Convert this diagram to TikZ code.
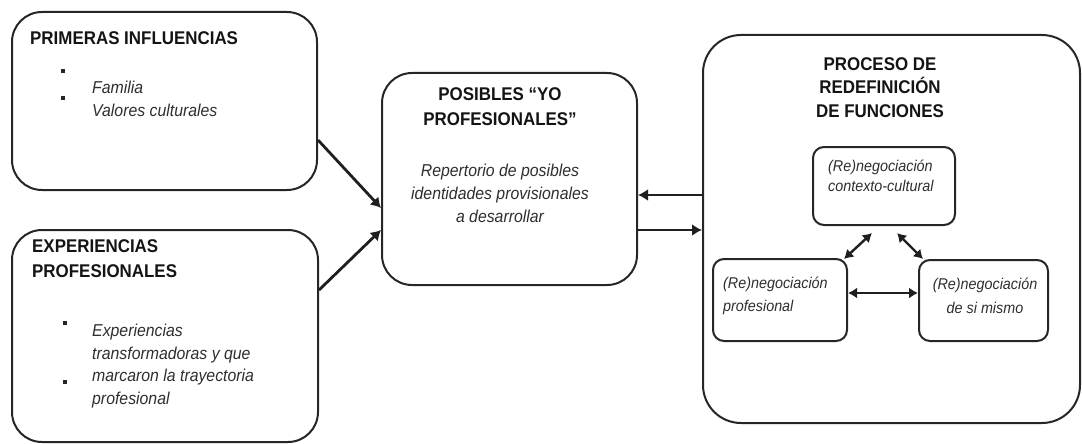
\documentclass[tikz,border=0pt]{standalone}
\usepackage{fontspec}
\setmainfont{Liberation Sans}
\newfontfamily\condfont[FakeStretch=0.92]{Liberation Sans}
\usetikzlibrary{arrows.meta}
\begin{document}
\begin{tikzpicture}[x=1pt,y=-1pt,
  bigbox/.style={draw=black!85,line width=2pt,rounded corners=30pt,inner sep=0pt},
  smallbox/.style={draw=black!85,line width=2pt,rounded corners=11pt,inner sep=0pt},
  ttl/.style={font=\condfont\fontsize{18.4}{25}\selectfont\bfseries,text=black!92,inner sep=0pt},
  body/.style={font=\condfont\fontsize{17.2}{23}\selectfont\itshape,text=black!82,inner sep=0pt},
  arr/.style={line width=2.8pt,draw=black!88,-{Latex[length=10pt,width=12pt]}},
  darr/.style={line width=2.4pt,draw=black!88,{Latex[length=9pt,width=11pt]}-{Latex[length=9pt,width=11pt]}},
  bul/.style={fill=black!85,minimum size=4.5pt,inner sep=0pt}]
\useasboundingbox (0,0) rectangle (1082,444);
% boxes
\node[bigbox,minimum width=305pt,minimum height=178pt] (b1) at (164.5,101) {};
\node[bigbox,minimum width=306pt,minimum height=212pt] (b2) at (165,336) {};
\node[bigbox,minimum width=255pt,minimum height=212pt] (b3) at (509.5,179) {};
\node[bigbox,rounded corners=38pt,minimum width=377pt,minimum height=388pt] (b4) at (891.5,229) {};
\node[smallbox,minimum width=142pt,minimum height=78pt] (cc) at (884,186) {};
\node[smallbox,minimum width=134pt,minimum height=82pt] (pr) at (780,300) {};
\node[smallbox,minimum width=129pt,minimum height=81pt] (sm) at (983.5,300.5) {};
% box 1 text
\node[ttl,anchor=west] (t1) at (30,38) {PRIMERAS INFLUENCIAS};
\node[bul] (u1) at (63,71) {};
\node[bul] (u2) at (63,98) {};
\node[body,anchor=west] (f1) at (92,87) {Familia};
\node[body,anchor=west] (f2) at (92,110) {Valores culturales};
% box 2 text
\node[ttl,anchor=north west,align=left] (t2) at (32,239) {EXPERIENCIAS\\PROFESIONALES};
\node[bul] (u3) at (65,323) {};
\node[bul] (u4) at (65,382) {};
\node[body,anchor=north west,align=left,font=\condfont\fontsize{17.2}{22.5}\selectfont\itshape] (e1) at (92,324) {Experiencias\\transformadoras y que\\marcaron la trayectoria\\profesional};
% box 3 text
\node[ttl,align=center,anchor=north] (t3) at (500,87) {POSIBLES “YO\\PROFESIONALES”};
\node[body,align=center,anchor=north] (r3) at (500,164) {Repertorio de posibles\\identidades provisionales\\a desarrollar};
% box 4 text
\node[ttl,align=center,anchor=north,font=\condfont\fontsize{18.4}{23.5}\selectfont\bfseries] (t4) at (880,57) {PROCESO DE\\REDEFINICIÓN\\DE FUNCIONES};
\node[body,align=left,anchor=north west,font=\condfont\fontsize{15.6}{20}\selectfont\itshape] (c1) at (828,160) {(Re)negociación\\contexto-cultural};
\node[body,align=left,anchor=north west,font=\condfont\fontsize{15.6}{23}\selectfont\itshape] (p1) at (723,277) {(Re)negociación\\profesional};
\node[body,align=center,anchor=north,font=\condfont\fontsize{15.6}{24}\selectfont\itshape] (s1) at (985,278) {(Re)negociación\\de si mismo};
% connectors
\draw[arr] ([yshift=-39pt]b1.east) -- ([yshift=-29pt]b3.west);
\draw[arr] ([yshift=46pt]b2.east) -- ([yshift=-51pt]b3.west);
\draw[arr] ([yshift=34pt]b4.west) -- ([yshift=-16pt]b3.east);
\draw[arr] ([yshift=-51pt]b3.east) -- ([yshift=-1pt]b4.west);
\draw[darr] ([xshift=-4pt,yshift=-1pt]pr.north east) -- ([xshift=-12pt,yshift=-7pt]cc.south);
\draw[darr] ([xshift=13pt,yshift=-7pt]cc.south) -- ([xshift=5pt]sm.north west);
\draw[darr] ([yshift=7pt]pr.east) -- ([yshift=7.5pt]sm.west);
\end{tikzpicture}
\end{document}
